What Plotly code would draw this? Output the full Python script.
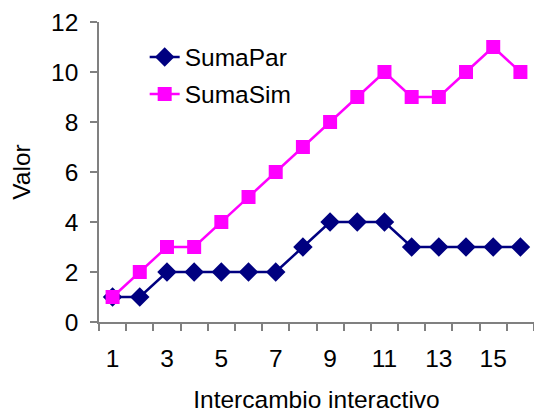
import plotly.graph_objects as go

x_vals = list(range(1, 17))
suma_par = [1, 1, 2, 2, 2, 2, 2, 3, 4, 4, 4, 3, 3, 3, 3, 3]
suma_sim = [1, 2, 3, 3, 4, 5, 6, 7, 8, 9, 10, 9, 9, 10, 11, 10]
x_tick_vals = [1, 3, 5, 7, 9, 11, 13, 15]
y_tick_vals = [0, 2, 4, 6, 8, 10, 12]

FONT = "Liberation Sans, Arial, sans-serif"
FS = 24.5

fig = go.Figure()
fig.add_trace(go.Scatter(
    x=x_vals, y=suma_par, name="SumaPar", mode="lines+markers",
    line=dict(color="#000080", width=2.5),
    marker=dict(symbol="diamond", size=15, color="#000080"),
    legend="legend",
))
fig.add_trace(go.Scatter(
    x=x_vals, y=suma_sim, name="SumaSim", mode="lines+markers",
    line=dict(color="#FF00FF", width=2.5),
    marker=dict(symbol="square", size=14, color="#FF00FF"),
    legend="legend2",
))

leg_common = dict(xanchor="left", yanchor="middle",
                  bgcolor="rgba(0,0,0,0)", font=dict(size=FS, family=FONT))

fig.update_layout(
    width=534, height=414,
    margin=dict(l=99, r=0, t=22, b=92),
    paper_bgcolor="white", plot_bgcolor="white",
    font=dict(family=FONT, size=FS, color="black"),
    showlegend=True,
    legend=dict(x=0.105, y=(322 - 57) / 300, **leg_common),
    legend2=dict(x=0.105, y=(322 - 94) / 300, **leg_common),
    xaxis=dict(
        range=[0.5, 16.5], tickmode="array", tickvals=x_tick_vals,
        ticks="", showgrid=False, zeroline=False,
        showline=True, linecolor="#808080", linewidth=1.5,
        minor=dict(ticks="outside", tick0=0.5, dtick=1, ticklen=7,
                   tickcolor="#808080", tickwidth=1.5, showgrid=False),
        ticklabelstandoff=14,
        title=dict(text="Intercambio interactivo", standoff=20, font=dict(size=FS)),
    ),
    yaxis=dict(
        range=[0, 12], tickmode="array", tickvals=y_tick_vals,
        ticks="outside", ticklen=7, tickcolor="#808080", tickwidth=1.5,
        showgrid=False, zeroline=False,
        showline=True, linecolor="#808080", linewidth=1.5,
        ticklabelstandoff=7,
        title=dict(text="Valor", standoff=14, font=dict(size=FS)),
    ),
)

fig.write_html("out.html", config={"displayModeBar": False},
               post_script="document.body.style.margin='0';")
